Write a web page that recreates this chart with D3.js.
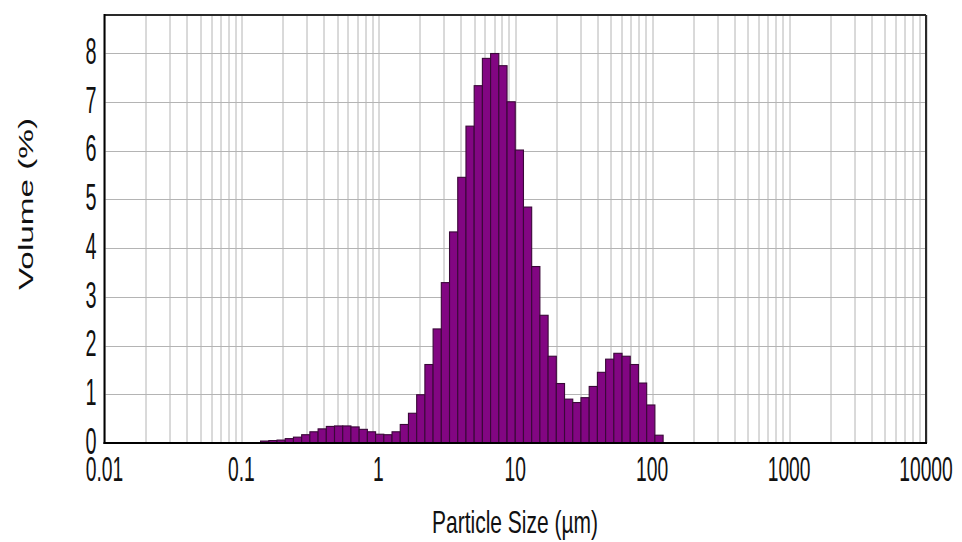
<!DOCTYPE html>
<html>
<head>
<meta charset="utf-8">
<script src="https://cdn.jsdelivr.net/npm/d3@7"></script>
<style>
  body { margin: 0; background: #fff; }
  text { font-family: "Liberation Sans", Arial, sans-serif; fill: #111; }
</style>
</head>
<body>
<div id="chart"></div>
<script>
// size class edges (µm), lower edge of each bar, last value is the upper edge of the last bar
var sizeEdges = [0.1380, 0.1585, 0.1820, 0.2089, 0.2399, 0.2754, 0.3162, 0.3631, 0.4169, 0.4786,
    0.5495, 0.6310, 0.7244, 0.8318, 0.9550, 1.0965, 1.2589, 1.4454, 1.6596, 1.9055,
    2.1878, 2.5119, 2.8840, 3.3113, 3.8019, 4.3652, 5.0119, 5.7544, 6.6069, 7.5858,
    8.7096, 10.000, 11.482, 13.183, 15.136, 17.378, 19.953, 22.909, 26.303, 30.200,
    34.674, 39.811, 45.709, 52.481, 60.256, 69.183, 79.433, 91.201, 104.71, 120.23];
// volume (%) in each size class
var volume = [0.04, 0.05, 0.06, 0.09, 0.12, 0.17, 0.23, 0.29, 0.34, 0.35,
    0.35, 0.33, 0.28, 0.23, 0.18, 0.17, 0.23, 0.38, 0.61, 0.99,
    1.61, 2.34, 3.29, 4.33, 5.45, 6.50, 7.33, 7.89, 7.99, 7.74,
    7.00, 6.01, 4.84, 3.62, 2.62, 1.78, 1.22, 0.90, 0.83, 0.93,
    1.16, 1.45, 1.72, 1.84, 1.78, 1.61, 1.23, 0.78, 0.16];
var xTickLabels = ["0.01", "0.1", "1", "10", "100", "1000", "10000"];
var xDomain = [0.01, 10000];
var yTicks = [0, 1, 2, 3, 4, 5, 6, 7, 8];
var yDomain = [0, 8.78];

var bars = volume.map(function (v, i) {
    return { lo: sizeEdges[i], hi: sizeEdges[i + 1], v: v };
});

var W = 962, H = 542;
var margin = { top: 15, right: 36, bottom: 99, left: 104.5 },
    width = W - margin.left - margin.right,
    height = H - margin.top - margin.bottom;

var svg = d3.select("#chart")
    .append("svg")
    .attr("width", W)
    .attr("height", H);

var g = svg.append("g")
    .attr("transform", `translate(${margin.left}, ${margin.top})`);

var x = d3.scaleLog().domain(xDomain).range([0, width]);
var y = d3.scaleLinear().domain(yDomain).range([height, 0]);

// grid
g.append("g")
    .selectAll("line")
    .data(x.ticks())
    .join("line")
    .attr("x1", function (d) { return Math.round(x(d)) + 0.5; })
    .attr("x2", function (d) { return Math.round(x(d)) + 0.5; })
    .attr("y1", 0)
    .attr("y2", height)
    .style("stroke", "#b4b4b4")
    .style("stroke-width", 1);
g.append("g")
    .selectAll("line")
    .data(yTicks.slice(1))
    .join("line")
    .attr("x1", 0)
    .attr("x2", width)
    .attr("y1", function (d) { return Math.round(y(d)) + 0.5; })
    .attr("y2", function (d) { return Math.round(y(d)) + 0.5; })
    .style("stroke", "#b4b4b4")
    .style("stroke-width", 1);

// bars
g.append("g")
    .selectAll("rect")
    .data(bars)
    .join("rect")
    .attr("x", function (d) { return x(d.lo); })
    .attr("width", function (d) { return x(d.hi) - x(d.lo); })
    .attr("y", function (d) { return y(d.v); })
    .attr("height", function (d) { return y(0) - y(d.v); })
    .style("fill", "#820682")
    .style("stroke", "#3a0838")
    .style("stroke-width", 1.1);

// frame
g.append("line").attr("x1", 0).attr("x2", width).attr("y1", 0).attr("y2", 0)
    .style("stroke", "#2a2a2a").style("stroke-width", 2);
g.append("line").attr("x1", width).attr("x2", width).attr("y1", 0).attr("y2", height)
    .style("stroke", "#2a2a2a").style("stroke-width", 2);
g.append("line").attr("x1", 0).attr("x2", 0).attr("y1", -1).attr("y2", height + 1)
    .style("stroke", "#000").style("stroke-width", 2);
g.append("line").attr("x1", -1).attr("x2", width + 1).attr("y1", height).attr("y2", height)
    .style("stroke", "#000").style("stroke-width", 2);

// tick labels
g.append("g")
    .selectAll("text")
    .data(xTickLabels)
    .join("text")
    .attr("transform", function (d) { return `translate(${x(+d)}, ${height + 38}) scale(0.55, 1)`; })
    .attr("text-anchor", "middle")
    .style("font-size", "35px")
    .text(function (d) { return d; });
g.append("g")
    .selectAll("text")
    .data(yTicks)
    .join("text")
    .attr("transform", function (d) { return `translate(-8, ${y(d) - 2}) scale(0.55, 1)`; })
    .attr("text-anchor", "end")
    .attr("dy", "0.36em")
    .style("font-size", "36px")
    .text(function (d) { return d; });

// axis titles
svg.append("text")
    .attr("x", 515)
    .attr("y", 533)
    .attr("text-anchor", "middle")
    .attr("textLength", 166)
    .attr("lengthAdjust", "spacingAndGlyphs")
    .style("font-size", "32px")
    .text("Particle Size (µm)");
svg.append("text")
    .attr("transform", "translate(26, 204) rotate(-90) scale(1, 0.64)")
    .attr("text-anchor", "middle")
    .attr("dy", "0.35em")
    .attr("textLength", 172)
    .attr("lengthAdjust", "spacingAndGlyphs")
    .style("font-size", "32px")
    .text("Volume (%)");
</script>
</body>
</html>
